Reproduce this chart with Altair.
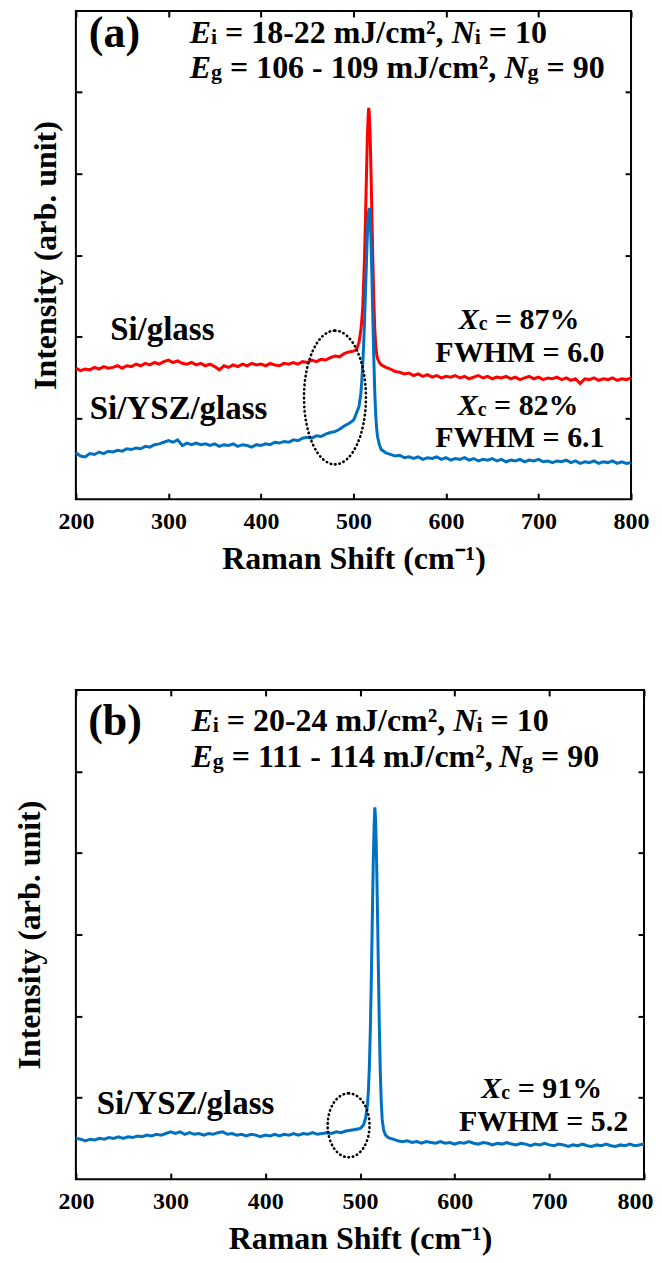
import altair as alt
import pandas as pd

FONT = "Liberation Serif"
RED = "#ff0000"
BLUE = "#0070c0"

X_TICKS = [200, 300, 400, 500, 600, 700, 800]
Y_TICKS = [1, 2, 3, 4, 5]
X_TITLE = "Raman Shift (cm⁻¹)"
Y_TITLE = "Intensity (arb. unit)"

# wavenumber grids (cm-1)
WAVE_LEFT = list(range(200, 500, 5))
WAVE_RIGHT = list(range(535, 805, 5))

# ---------------- panel (a): Si/glass (red) ----------------
RED_A_LEFT = [
    1.61, 1.58, 1.60, 1.59, 1.62, 1.60, 1.63, 1.61, 1.62, 1.64,
    1.61, 1.64, 1.63, 1.66, 1.64, 1.67, 1.65, 1.68, 1.66, 1.69,
    1.71, 1.68, 1.70, 1.67, 1.66, 1.68, 1.65, 1.67, 1.64, 1.66,
    1.63, 1.59, 1.64, 1.62, 1.65, 1.63, 1.66, 1.64, 1.67, 1.65,
    1.66, 1.64, 1.67, 1.65, 1.64, 1.67, 1.66, 1.68, 1.66, 1.69,
    1.68, 1.71, 1.69, 1.72, 1.71, 1.74, 1.76, 1.75, 1.79, 1.81]
RED_A_PEAK_W = [500, 502, 504, 506, 508, 509, 510, 511, 512, 513, 514, 515, 516, 516.5,
                517, 518, 519, 520, 521, 522, 523, 524, 525, 526, 528, 530]
RED_A_PEAK_V = [1.82, 1.83, 1.86, 1.93, 2.08, 2.2, 2.35, 2.65, 3.0, 3.45, 3.95, 4.45, 4.74, 4.81,
                4.76, 4.48, 4.0, 3.45, 2.92, 2.45, 2.1, 1.9, 1.79, 1.73, 1.68, 1.65]
RED_A_RIGHT = [
    1.62, 1.60, 1.57, 1.56, 1.54, 1.55, 1.52, 1.54, 1.51, 1.53,
    1.50, 1.52, 1.49, 1.51, 1.50, 1.52, 1.49, 1.51, 1.48, 1.50,
    1.52, 1.49, 1.51, 1.48, 1.50, 1.49, 1.51, 1.48, 1.50, 1.47,
    1.49, 1.51, 1.48, 1.50, 1.47, 1.49, 1.48, 1.50, 1.47, 1.49,
    1.46, 1.48, 1.42, 1.48, 1.47, 1.49, 1.46, 1.48, 1.47, 1.49,
    1.46, 1.48, 1.47, 1.49]

# ---------------- panel (a): Si/YSZ/glass (blue) ----------------
BLUE_A_LEFT = [
    0.57, 0.53, 0.52, 0.56, 0.55, 0.58, 0.56, 0.59, 0.58, 0.60,
    0.59, 0.62, 0.61, 0.63, 0.62, 0.65, 0.64, 0.67, 0.68, 0.70,
    0.72, 0.70, 0.73, 0.66, 0.69, 0.67, 0.69, 0.67, 0.68, 0.66,
    0.68, 0.65, 0.67, 0.66, 0.68, 0.65, 0.67, 0.66, 0.64, 0.67,
    0.66, 0.68, 0.67, 0.70, 0.69, 0.71, 0.70, 0.73, 0.72, 0.75,
    0.76, 0.75, 0.78, 0.77, 0.80, 0.82, 0.83, 0.86, 0.90, 0.93]
BLUE_A_PEAK_W = [500, 502, 504, 506, 508, 509, 510, 511, 512, 513, 514, 515, 516, 517,
                 518, 519, 520, 521, 522, 523, 524, 525, 526, 528, 530]
BLUE_A_PEAK_V = [0.97, 1.02, 1.08, 1.14, 1.3, 1.45, 1.65, 1.9, 2.2, 2.55, 2.9, 3.25, 3.5, 3.58,
                 3.48, 3.15, 2.7, 2.2, 1.72, 1.32, 1.05, 0.88, 0.77, 0.67, 0.61]
BLUE_A_RIGHT = [
    0.57, 0.55, 0.53, 0.54, 0.51, 0.52, 0.50, 0.52, 0.49, 0.51,
    0.50, 0.52, 0.49, 0.51, 0.48, 0.50, 0.49, 0.51, 0.48, 0.50,
    0.47, 0.49, 0.48, 0.50, 0.47, 0.49, 0.46, 0.48, 0.47, 0.49,
    0.46, 0.48, 0.47, 0.49, 0.46, 0.47, 0.45, 0.47, 0.46, 0.48,
    0.45, 0.47, 0.44, 0.46, 0.45, 0.47, 0.44, 0.46, 0.45, 0.47,
    0.44, 0.46, 0.44, 0.45]

# ---------------- panel (b): Si/YSZ/glass (blue) ----------------
BLUE_B_LEFT = [
    0.50, 0.49, 0.47, 0.49, 0.48, 0.50, 0.49, 0.51, 0.50, 0.52,
    0.50, 0.52, 0.51, 0.53, 0.52, 0.54, 0.53, 0.55, 0.54, 0.56,
    0.58, 0.56, 0.58, 0.55, 0.57, 0.55, 0.56, 0.54, 0.56, 0.55,
    0.57, 0.58, 0.55, 0.56, 0.54, 0.55, 0.53, 0.55, 0.54, 0.52,
    0.54, 0.53, 0.55, 0.53, 0.55, 0.54, 0.56, 0.54, 0.56, 0.55,
    0.57, 0.55, 0.56, 0.57, 0.56, 0.58, 0.57, 0.59, 0.60, 0.61]
BLUE_B_PEAK_W = [500, 502, 504, 506, 508, 509, 510, 511, 512, 513, 514, 515, 515.7, 516.5,
                 517.5, 518.5, 519.5, 520.5, 521.5, 522.5, 523.5, 525, 527, 530]
BLUE_B_PEAK_V = [0.62, 0.64, 0.67, 0.75, 0.92, 1.1, 1.4, 1.85, 2.45, 3.15, 3.85, 4.35, 4.56, 4.42,
                 3.95, 3.3, 2.55, 1.85, 1.3, 0.95, 0.73, 0.6, 0.54, 0.51]
BLUE_B_RIGHT = [
    0.49, 0.47, 0.46, 0.47, 0.45, 0.46, 0.44, 0.46, 0.45, 0.44,
    0.46, 0.44, 0.45, 0.43, 0.45, 0.44, 0.46, 0.44, 0.43, 0.45,
    0.44, 0.42, 0.44, 0.43, 0.45, 0.43, 0.42, 0.44, 0.43, 0.41,
    0.43, 0.42, 0.44, 0.42, 0.41, 0.43, 0.42, 0.40, 0.42, 0.41,
    0.43, 0.41, 0.40, 0.42, 0.41, 0.43, 0.41, 0.40, 0.42, 0.41,
    0.43, 0.41, 0.42, 0.43]

# ---------------- layout constants ----------------
W_A, H_A = 556, 489
W_B, H_B = 569, 490
SUB = 22      # subscript font size (header)
HDR = 32      # header font size
ANN = 30      # Xc / FWHM font size
ANN_SUB = 20
LBL = 33      # sample label font size

# Times/Liberation Serif Bold advance widths (1/1000 em)
ADV = {' ': 250, '=': 570, '-': 333, 'm': 833, 'J': 500, '/': 278, 'c': 444, '²': 300,
       ',': 250, 'i': 278, 'g': 500, '%': 1000, '.': 250, 'F': 611, 'W': 1000, 'H': 778,
       'M': 944}
for d in "0123456789":
    ADV[d] = 500
ADV_IT = {'E': 667, 'N': 722, 'X': 667}
KERN_11 = -75   # "11" kerning pair


def text_width(t, size, italic):
    table = ADV_IT if italic else ADV
    units = sum(table.get(ch, ADV.get(ch, 500)) for ch in t)
    units += KERN_11 * sum(1 for a, b in zip(t, t[1:]) if a == '1' and b == '1')
    return units * size / 1000.0


def rich(segments, w0, v0, align, W, H):
    """segments: (text, size, italic, dy_px). Returns rows in data units."""
    px_w = 600.0 / W
    px_v = 6.0 / H
    total = sum(text_width(t, s, it) for t, s, it, _ in segments)
    x = 0.0 if align == "left" else -total / 2.0
    rows = []
    for t, s, it, dy in segments:
        lead = len(t) - len(t.lstrip(' '))
        trail = len(t) - len(t.rstrip(' '))
        x += lead * 0.25 * s
        core = t.strip(' ')
        rows.append(dict(w=w0 + x * px_w, v=v0 - dy * px_v, text=core, size=s, italic=it))
        x += text_width(core, s, it) + trail * 0.25 * s
    return rows


def series_df(left_v, peak_w, peak_v, right_v):
    w = WAVE_LEFT + peak_w + WAVE_RIGHT
    v = left_v + peak_v + right_v
    return pd.DataFrame({"w": w, "v": v})


X_SCALE = alt.Scale(domain=[200, 800], nice=False, zero=False)
Y_SCALE = alt.Scale(domain=[0, 6], nice=False, zero=False)


def ax_bottom(last_shift):
    return alt.Axis(
        orient="bottom", values=X_TICKS, title=X_TITLE, format="d",
        labelFlush=False, labelOverlap=False, labelPadding=10, titlePadding=10,
        labelAlign={"condition": {"test": "datum.value >= 800", "value": "right"}, "value": "center"},
        labelOffset={"condition": {"test": "datum.value >= 800", "value": last_shift}, "value": 0},
        offset=-6, tickSize=6, domain=False, grid=False)


def ax_top():
    return alt.Axis(orient="top", values=X_TICKS, labels=False, title=None,
                    offset=-6, tickSize=6, domain=False, grid=False)


def ax_left(tp):
    return alt.Axis(orient="left", values=Y_TICKS, labels=False, title=Y_TITLE,
                    titlePadding=tp, offset=-6, tickSize=6, domain=False, grid=False)


def ax_right():
    return alt.Axis(orient="right", values=Y_TICKS, labels=False, title=None,
                    offset=-6, tickSize=6, domain=False, grid=False)


def line_layer(df, color, with_axes, tp=12, last_shift=18):
    return alt.Chart(df).mark_line(color=color, strokeWidth=3).encode(
        x=alt.X("w:Q", scale=X_SCALE, axis=ax_bottom(last_shift) if with_axes else None),
        y=alt.Y("v:Q", scale=Y_SCALE, axis=ax_left(tp) if with_axes else None),
    )


def ellipse_layer(w, v, rx, ry):
    r = rx / ry
    path = f"M0,-1 A{r:.3f},1 0 1,1 0,1 A{r:.3f},1 0 1,1 0,-1 Z"
    return alt.Chart(pd.DataFrame({"w": [w], "v": [v]})).mark_point(
        shape=path, size=4 * ry * ry, filled=False, stroke="black", strokeWidth=2.6,
        strokeDash=[0.5, 3.9], strokeCap="round", opacity=1
    ).encode(
        x=alt.X("w:Q", scale=X_SCALE, axis=None),
        y=alt.Y("v:Q", scale=Y_SCALE, axis=None),
    )


def text_layers(rows):
    df = pd.DataFrame(rows)
    up = alt.Chart(df[~df.italic]).mark_text(
        font=FONT, fontWeight="bold", fontStyle="normal", align="left",
        baseline="alphabetic", color="black"
    ).encode(
        x=alt.X("w:Q", scale=X_SCALE, axis=ax_top()),
        y=alt.Y("v:Q", scale=Y_SCALE, axis=ax_right()),
        text="text:N",
        size=alt.Size("size:Q", scale=None),
    )
    it = alt.Chart(df[df.italic]).mark_text(
        font=FONT, fontWeight="bold", fontStyle="italic", align="left",
        baseline="alphabetic", color="black"
    ).encode(
        x=alt.X("w:Q", scale=X_SCALE, axis=None),
        y=alt.Y("v:Q", scale=Y_SCALE, axis=None),
        text="text:N",
        size=alt.Size("size:Q", scale=None),
    )
    return [up, it]


# ---------------- annotations ----------------
rows_a = []
rows_a += rich([("(a)", 44, False, 0)], 214, 5.56, "left", W_A, H_A)
rows_a += rich([("E", HDR, True, 0), ("i", SUB, False, 1), (" = 18-22 mJ/cm², ", HDR, False, 0),
                ("N", HDR, True, 0), ("i", SUB, False, 1), (" = 10", HDR, False, 0)],
               323, 5.61, "left", W_A, H_A)
rows_a += rich([("E", HDR, True, 0), ("g", SUB, False, 1), (" = 106 - 109 mJ/cm², ", HDR, False, 0),
                ("N", HDR, True, 0), ("g", SUB, False, 1), (" = 90", HDR, False, 0)],
               323, 5.18, "left", W_A, H_A)
rows_a += rich([("Si/glass", LBL, False, 0)], 237, 1.96, "left", W_A, H_A)
rows_a += rich([("Si/YSZ/glass", LBL, False, 0)], 215, 0.99, "left", W_A, H_A)
rows_a += rich([("X", ANN, True, 0), ("c", ANN_SUB, False, 1), (" = 87%", ANN, False, 0)],
               679, 2.09, "center", W_A, H_A)
rows_a += rich([("FWHM = 6.0", ANN, False, 0)], 680, 1.68, "center", W_A, H_A)
rows_a += rich([("X", ANN, True, 0), ("c", ANN_SUB, False, 1), (" = 82%", ANN, False, 0)],
               678, 1.04, "center", W_A, H_A)
rows_a += rich([("FWHM = 6.1", ANN, False, 0)], 680, 0.64, "center", W_A, H_A)

rows_b = []
rows_b += rich([("(b)", 44, False, 0)], 213, 5.45, "left", W_B, H_B)
rows_b += rich([("E", HDR, True, 0), ("i", SUB, False, 1), (" = 20-24 mJ/cm², ", HDR, False, 0),
                ("N", HDR, True, 0), ("i", SUB, False, 1), (" = 10", HDR, False, 0)],
               322, 5.50, "left", W_B, H_B)
rows_b += rich([("E", HDR, True, 0), ("g", SUB, False, 1), (" = 111 - 114 mJ/cm², ", HDR, False, 0),
                ("N", HDR, True, 0), ("g", SUB, False, 1), (" = 90", HDR, False, 0)],
               322, 5.06, "left", W_B, H_B)
rows_b += rich([("Si/YSZ/glass", LBL, False, 0)], 222, 0.80, "left", W_B, H_B)
rows_b += rich([("X", ANN, True, 0), ("c", ANN_SUB, False, 1), (" = 91%", ANN, False, 0)],
               692, 1.0, "center", W_B, H_B)
rows_b += rich([("FWHM = 5.2", ANN, False, 0)], 694, 0.59, "center", W_B, H_B)

# ---------------- panels ----------------
red_a = series_df(RED_A_LEFT, RED_A_PEAK_W, RED_A_PEAK_V, RED_A_RIGHT)
blue_a = series_df(BLUE_A_LEFT, BLUE_A_PEAK_W, BLUE_A_PEAK_V, BLUE_A_RIGHT)
blue_b = series_df(BLUE_B_LEFT, BLUE_B_PEAK_W, BLUE_B_PEAK_V, BLUE_B_RIGHT)

panel_a = alt.layer(
    line_layer(red_a, RED, True, tp=12, last_shift=18),
    line_layer(blue_a, BLUE, False),
    ellipse_layer(480, 1.25, 31, 67),
    *text_layers(rows_a),
).resolve_axis(x="independent", y="independent").properties(width=W_A, height=H_A)

panel_b = alt.layer(
    line_layer(blue_b, BLUE, True, tp=28, last_shift=9),
    ellipse_layer(488, 0.66, 21, 32),
    *text_layers(rows_b),
).resolve_axis(x="independent", y="independent").properties(width=W_B, height=H_B)

chart = alt.vconcat(panel_a, panel_b, spacing=113).properties(
    padding={"left": 5, "top": 0, "right": 0, "bottom": 0},
    background="white",
).configure_view(
    stroke="black", strokeWidth=2
).configure_axis(
    tickColor="black", tickWidth=2,
    labelFont=FONT, labelFontSize=24, labelFontWeight="bold", labelColor="black",
    titleFont=FONT, titleFontSize=32, titleFontWeight="bold", titleColor="black",
)

chart.save("out.html", embed_options={"renderer": "svg", "actions": False})
